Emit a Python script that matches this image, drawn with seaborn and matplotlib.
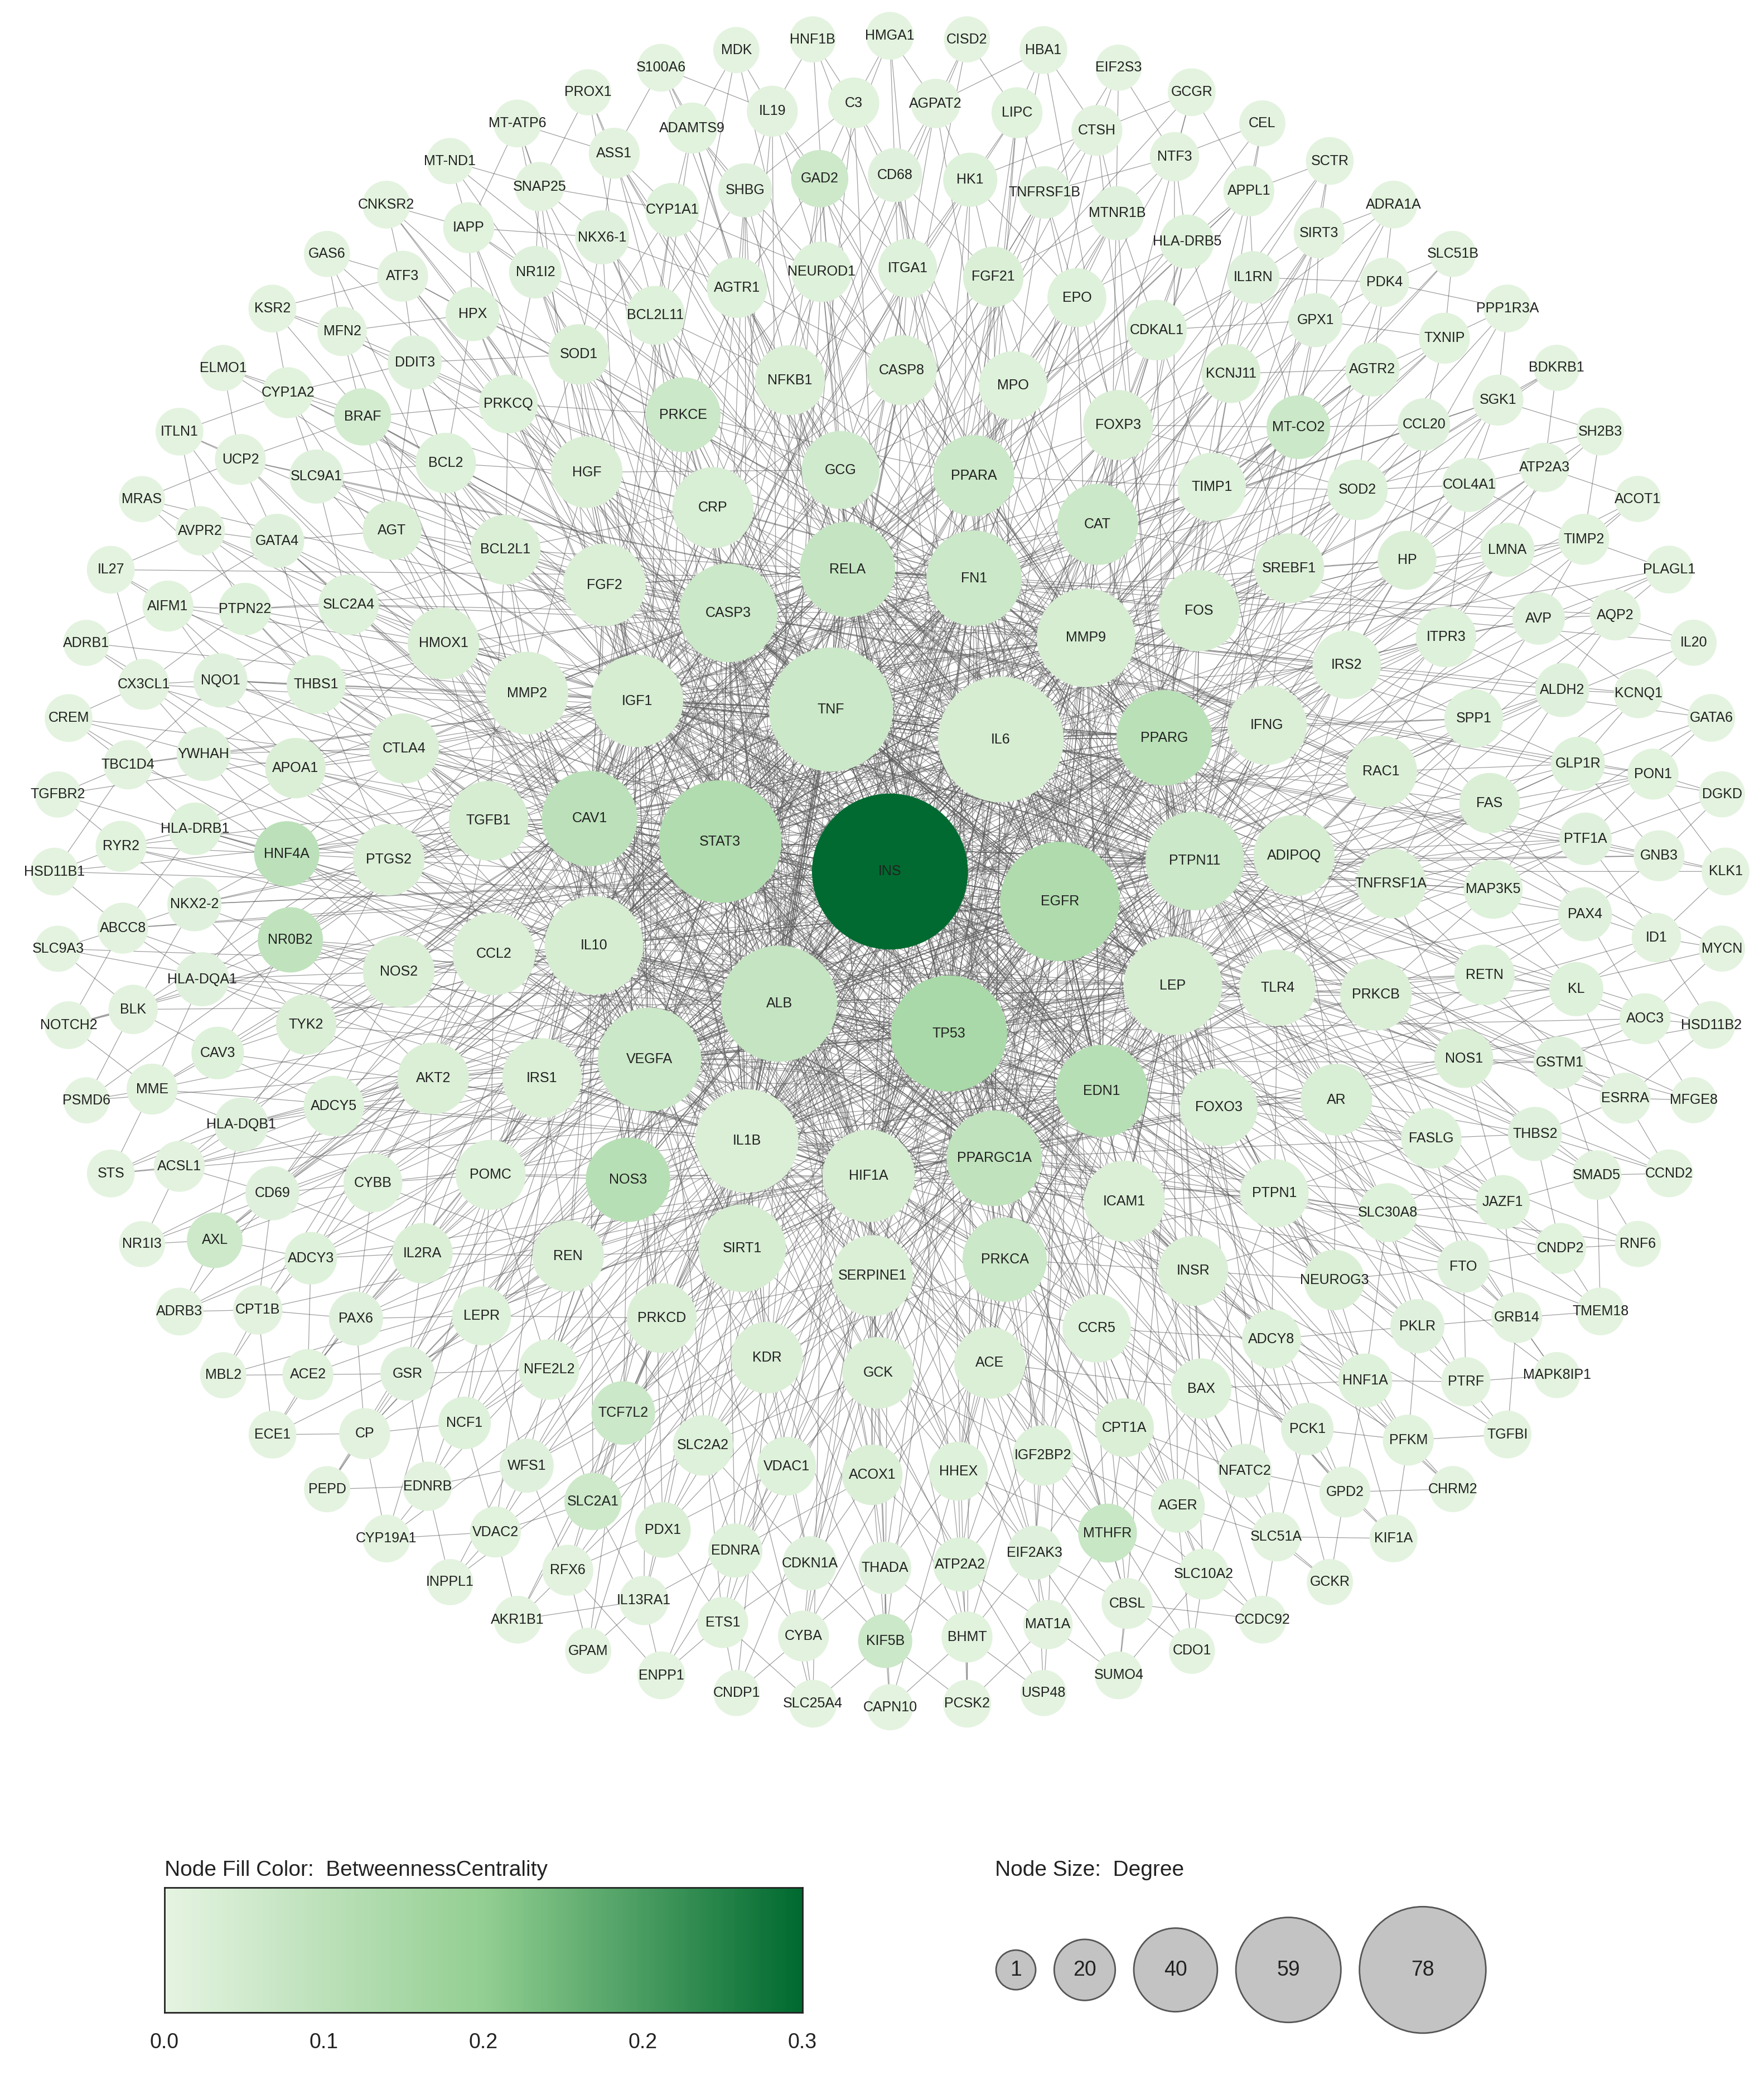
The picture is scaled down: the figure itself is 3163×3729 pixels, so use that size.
import numpy as np
import pandas as pd
import seaborn as sns
import matplotlib.pyplot as plt
from matplotlib.collections import LineCollection
from matplotlib.colors import LinearSegmentedColormap, Normalize

sns.set_style("white")
plt.rcParams['font.family'] = ['Liberation Sans', 'DejaVu Sans']

# ---- data: nodes per ring (outer -> inner), clockwise from top ----
ring_a = ['HNF1B', 'HMGA1', 'CISD2', 'HBA1', 'EIF2S3', 'GCGR', 'CEL', 'SCTR', 'ADRA1A', 'SLC51B', 'PPP1R3A',
          'BDKRB1', 'SH2B3', 'ACOT1', 'PLAGL1', 'IL20', 'GATA6', 'DGKD', 'KLK1', 'MYCN', 'HSD11B2', 'MFGE8',
          'CCND2', 'RNF6', 'TMEM18', 'MAPK8IP1', 'TGFBI', 'CHRM2', 'KIF1A', 'GCKR', 'CCDC92', 'CDO1', 'SUMO4',
          'USP48', 'PCSK2', 'CAPN10', 'SLC25A4', 'CNDP1', 'ENPP1', 'GPAM', 'AKR1B1', 'INPPL1', 'CYP19A1', 'PEPD',
          'ECE1', 'MBL2', 'ADRB3', 'NR1I3', 'STS', 'PSMD6', 'NOTCH2', 'SLC9A3', 'HSD11B1', 'TGFBR2', 'CREM',
          'ADRB1', 'IL27', 'MRAS', 'ITLN1', 'ELMO1', 'KSR2', 'GAS6', 'CNKSR2', 'MT-ND1', 'MT-ATP6', 'PROX1',
          'S100A6', 'MDK']
deg_a = [9, 10, 9, 10, 9, 10, 9, 10, 10, 9, 10, 9, 10, 9, 10, 9, 10, 9, 10, 9, 10, 9, 10, 9, 10, 9, 10, 9,
         10, 9, 10, 9, 10, 9, 10, 9, 10, 9, 10, 9, 10, 9, 10, 9, 10, 9, 10, 9, 10, 9, 10, 9, 10, 9, 10, 9, 10,
         9, 10, 9, 10, 9, 10, 9, 10, 9, 10, 9]
bet_a = [0.004, 0.006, 0.004, 0.005, 0.004, 0.006, 0.004, 0.005, 0.006, 0.004, 0.005, 0.004, 0.006, 0.004,
         0.005, 0.004, 0.006, 0.004, 0.005, 0.004, 0.006, 0.004, 0.005, 0.004, 0.006, 0.004, 0.005, 0.004,
         0.006, 0.004, 0.005, 0.004, 0.006, 0.004, 0.005, 0.004, 0.006, 0.004, 0.005, 0.004, 0.006, 0.004,
         0.005, 0.004, 0.006, 0.004, 0.005, 0.004, 0.006, 0.004, 0.005, 0.004, 0.006, 0.004, 0.005, 0.004,
         0.006, 0.004, 0.005, 0.004, 0.006, 0.004, 0.005, 0.004, 0.006, 0.004, 0.005, 0.004]

ring_b = ['IL19', 'C3', 'AGPAT2', 'LIPC', 'CTSH', 'NTF3', 'APPL1', 'SIRT3', 'PDK4', 'TXNIP', 'SGK1', 'ATP2A3',
          'TIMP2', 'AQP2', 'KCNQ1', 'PON1', 'GNB3', 'ID1', 'AOC3', 'ESRRA', 'SMAD5', 'CNDP2', 'GRB14', 'PTRF',
          'PFKM', 'GPD2', 'SLC51A', 'SLC10A2', 'CBSL', 'MAT1A', 'BHMT', 'KIF5B', 'CYBA', 'ETS1', 'IL13RA1',
          'RFX6', 'VDAC2', 'EDNRB', 'CP', 'ACE2', 'CPT1B', 'AXL', 'ACSL1', 'MME', 'BLK', 'ABCC8', 'RYR2',
          'TBC1D4', 'CX3CL1', 'AIFM1', 'AVPR2', 'UCP2', 'CYP1A2', 'MFN2', 'ATF3', 'IAPP', 'SNAP25', 'ASS1',
          'ADAMTS9']
deg_b = [12, 12, 11, 12, 12, 11, 12, 12, 11, 12, 12, 11, 12, 12, 11, 12, 12, 11, 12, 12, 11, 12, 12, 11, 12,
         12, 11, 12, 12, 11, 12, 14, 12, 12, 11, 12, 12, 11, 12, 12, 11, 15, 12, 12, 11, 12, 12, 11, 12, 12, 11,
         12, 12, 11, 12, 12, 11, 12, 12]
bet_b = [0.008, 0.01, 0.008, 0.01, 0.008, 0.008, 0.01, 0.008, 0.008, 0.01, 0.008, 0.008, 0.01, 0.008, 0.008,
         0.01, 0.008, 0.008, 0.01, 0.008, 0.008, 0.01, 0.008, 0.008, 0.01, 0.008, 0.008, 0.01, 0.008, 0.008,
         0.01, 0.05, 0.008, 0.01, 0.008, 0.008, 0.01, 0.008, 0.008, 0.01, 0.008, 0.045, 0.008, 0.01, 0.008,
         0.008, 0.01, 0.008, 0.008, 0.01, 0.008, 0.008, 0.01, 0.008, 0.008, 0.01, 0.008, 0.008, 0.01]

ring_c = ['SHBG', 'GAD2', 'CD68', 'HK1', 'TNFRSF1B', 'MTNR1B', 'HLA-DRB5', 'IL1RN', 'GPX1', 'AGTR2', 'CCL20',
          'COL4A1', 'LMNA', 'AVP', 'ALDH2', 'GLP1R', 'PTF1A', 'PAX4', 'KL', 'GSTM1', 'THBS2', 'JAZF1', 'FTO',
          'PKLR', 'HNF1A', 'PCK1', 'NFATC2', 'AGER', 'MTHFR', 'EIF2AK3', 'ATP2A2', 'THADA', 'CDKN1A', 'EDNRA',
          'PDX1', 'SLC2A1', 'WFS1', 'NCF1', 'GSR', 'PAX6', 'ADCY3', 'CD69', 'HLA-DQB1', 'CAV3', 'HLA-DQA1',
          'NKX2-2', 'HLA-DRB1', 'YWHAH', 'NQO1', 'PTPN22', 'GATA4', 'SLC9A1', 'BRAF', 'DDIT3', 'HPX', 'NR1I2',
          'NKX6-1', 'CYP1A1']
deg_c = [14, 16, 14, 14, 13, 14, 14, 13, 14, 14, 13, 14, 14, 13, 14, 14, 13, 14, 14, 13, 14, 14, 13, 14, 14,
         13, 14, 14, 17, 14, 14, 13, 14, 14, 15, 16, 14, 13, 14, 14, 13, 14, 14, 13, 14, 14, 13, 14, 14, 13, 14,
         14, 16, 14, 14, 13, 14, 14]
bet_c = [0.012, 0.045, 0.012, 0.015, 0.012, 0.012, 0.015, 0.012, 0.012, 0.015, 0.012, 0.012, 0.015, 0.012,
         0.012, 0.015, 0.012, 0.012, 0.015, 0.012, 0.012, 0.015, 0.012, 0.012, 0.015, 0.012, 0.012, 0.015,
         0.055, 0.012, 0.015, 0.012, 0.012, 0.015, 0.02, 0.045, 0.012, 0.015, 0.012, 0.012, 0.015, 0.012,
         0.012, 0.015, 0.012, 0.012, 0.015, 0.012, 0.012, 0.015, 0.012, 0.012, 0.035, 0.012, 0.015, 0.012,
         0.012, 0.015]

ring_d = ['NEUROD1', 'ITGA1', 'FGF21', 'EPO', 'CDKAL1', 'KCNJ11', 'MT-CO2', 'SOD2', 'HP', 'ITPR3', 'SPP1',
          'FAS', 'MAP3K5', 'RETN', 'NOS1', 'FASLG', 'SLC30A8', 'NEUROG3', 'ADCY8', 'BAX', 'CPT1A', 'IGF2BP2',
          'HHEX', 'ACOX1', 'VDAC1', 'SLC2A2', 'TCF7L2', 'NFE2L2', 'LEPR', 'IL2RA', 'CYBB', 'ADCY5', 'TYK2',
          'NR0B2', 'HNF4A', 'APOA1', 'THBS1', 'SLC2A4', 'AGT', 'BCL2', 'PRKCQ', 'SOD1', 'BCL2L11', 'AGTR1']
deg_d = [18, 17, 18, 17, 18, 17, 20, 18, 17, 18, 17, 18, 17, 18, 17, 18, 17, 18, 17, 18, 17, 18, 17, 18, 17,
         18, 20, 18, 17, 18, 17, 18, 18, 21, 21, 18, 17, 18, 17, 18, 17, 18, 17, 18]
bet_d = [0.015, 0.015, 0.02, 0.015, 0.015, 0.02, 0.05, 0.015, 0.02, 0.015, 0.015, 0.02, 0.015, 0.015, 0.02,
         0.015, 0.015, 0.02, 0.015, 0.015, 0.02, 0.015, 0.015, 0.02, 0.015, 0.015, 0.05, 0.015, 0.015, 0.02,
         0.015, 0.015, 0.02, 0.07, 0.075, 0.02, 0.015, 0.015, 0.02, 0.015, 0.015, 0.02, 0.015, 0.015]

ring_e = ['NFKB1', 'CASP8', 'MPO', 'FOXP3', 'TIMP1', 'SREBF1', 'IRS2', 'RAC1', 'TNFRSF1A', 'PRKCB', 'AR',
          'PTPN1', 'INSR', 'CCR5', 'ACE', 'GCK', 'KDR', 'PRKCD', 'REN', 'POMC', 'AKT2', 'NOS2', 'PTGS2', 'CTLA4',
          'HMOX1', 'BCL2L1', 'HGF', 'PRKCE']
deg_e = [24, 24, 23, 24, 23, 24, 23, 25, 24, 25, 25, 23, 24, 23, 25, 25, 25, 24, 25, 24, 25, 25, 25, 24, 25,
         24, 25, 27]
bet_e = [0.02, 0.02, 0.015, 0.02, 0.015, 0.02, 0.015, 0.02, 0.02, 0.02, 0.025, 0.015, 0.02, 0.015, 0.02, 0.02,
         0.02, 0.02, 0.02, 0.015, 0.02, 0.02, 0.02, 0.02, 0.02, 0.02, 0.02, 0.05]

ring_f = ['GCG', 'PPARA', 'CAT', 'FOS', 'IFNG', 'ADIPOQ', 'TLR4', 'FOXO3', 'ICAM1', 'PRKCA', 'SERPINE1',
          'SIRT1', 'NOS3', 'IRS1', 'CCL2', 'TGFB1', 'MMP2', 'FGF2', 'CRP']
deg_f = [29, 31, 31, 31, 30, 31, 28, 29, 31, 33, 31, 35, 33, 30, 32, 30, 32, 32, 31]
bet_f = [0.04, 0.05, 0.05, 0.03, 0.02, 0.03, 0.02, 0.025, 0.02, 0.05, 0.02, 0.03, 0.085, 0.02, 0.02, 0.03,
         0.02, 0.02, 0.025]

ring_g = ['RELA', 'FN1', 'MMP9', 'PPARG', 'PTPN11', 'LEP', 'EDN1', 'PPARGC1A', 'HIF1A', 'IL1B', 'VEGFA',
          'IL10', 'CAV1', 'IGF1', 'CASP3']
deg_g = [40, 40, 42, 40, 42, 42, 38, 40, 38, 45, 45, 42, 40, 38, 42]
bet_g = [0.06, 0.05, 0.03, 0.08, 0.05, 0.03, 0.085, 0.07, 0.03, 0.02, 0.05, 0.03, 0.075, 0.03, 0.05]

ring_h = ['TNF', 'IL6', 'EGFR', 'TP53', 'ALB', 'STAT3']
deg_h = [58, 59, 55, 53, 53, 57]
bet_h = [0.05, 0.03, 0.1, 0.11, 0.06, 0.095]

core = ['INS']
deg_core = [78]
bet_core = [0.3]

legend_degree = [1, 20, 40, 59, 78]
cbar_ticks = [0.0, 0.075, 0.15, 0.225, 0.3]
cbar_labels = ['0.0', '0.1', '0.2', '0.2', '0.3']

# ---- layout (display units of a 1330 x 1568 canvas) ----
W, H = 1330, 1568
cx, cy = 671, 657
rings = [(ring_a, deg_a, bet_a, 630, -5.3), (ring_b, deg_b, bet_b, 580, -8.8),
         (ring_c, deg_c, bet_c, 525, -12), (ring_d, deg_d, bet_d, 455, -6.5),
         (ring_e, deg_e, bet_e, 378, -11.5), (ring_f, deg_f, bet_f, 305, -7),
         (ring_g, deg_g, bet_g, 230, -8), (ring_h, deg_h, bet_h, 130, -20),
         (core, deg_core, bet_core, 0, 0)]
rows = []
for level, (names, degs, bets, r, start) in enumerate(rings):
    n = len(names)
    for i, (nm, d, b) in enumerate(zip(names, degs, bets)):
        ang = np.deg2rad(start + 360.0 * i / n)
        rows.append(dict(name=nm, degree=d, bet=b, level=level, ang=ang,
                         x=cx + r * np.sin(ang), y=cy - r * np.cos(ang)))
nodes = pd.DataFrame(rows)

# ---- edges: each node links toward inner rings (nearby angle + hubs) ----
hubs = nodes[nodes.level >= 6].index.tolist()
segs = []
for u, row in nodes.iterrows():
    if row.level == 8:
        continue
    k = max(1, row.degree // 2)
    inner = nodes[nodes.level > row.level]
    da = np.abs(np.angle(np.exp(1j * (inner.ang - row.ang))))
    score = da + 0.12 * (inner.level - row.level)
    near = inner.index[np.argsort(score.values)][: (k + 1) // 2]
    picks = list(near)
    for j in range(k - len(picks)):
        picks.append(hubs[(u * 7 + j * 5) % len(hubs)])
    for v in picks:
        segs.append([(row.x, row.y), (nodes.at[v, 'x'], nodes.at[v, 'y'])])


def diam(d):
    return 24 + 1.2 * d


px2pt = 3163 / W * 0.72
nodes['s'] = (diam(nodes.degree) * px2pt) ** 2
nodes = nodes.sort_values('degree')

cmap = LinearSegmentedColormap.from_list('bc', ['#e6f4e2', '#93cf92', '#006a30'])
norm = Normalize(0, 0.3)

fig = plt.figure(figsize=(31.63, 37.29), dpi=100)
ax = fig.add_axes([0, 0, 1, 1])
ax.add_collection(LineCollection(segs, colors='#5e5e5e', linewidths=0.9, alpha=0.6, zorder=1))
sns.scatterplot(data=nodes, x='x', y='y', hue='bet', palette=cmap, hue_norm=norm, s=nodes['s'].values,
                linewidth=0, legend=False, ax=ax, zorder=2)
for _, row in nodes.iterrows():
    ax.text(row.x, row.y, row['name'], ha='center', va='center', fontsize=18, color='#222222', zorder=3)

# size legend
ldiam = [29 + 0.85 * d for d in legend_degree]
lx = []
pos = 751
for dm in ldiam:
    lx.append(pos + dm / 2)
    pos += dm + 14
ax.scatter(lx, [1485] * len(lx), s=[(dm * px2pt) ** 2 for dm in ldiam], color='#c3c3c3',
           edgecolor='#555555', linewidth=2, zorder=2)
for x, d in zip(lx, legend_degree):
    ax.text(x, 1485, str(d), ha='center', va='center', fontsize=27, color='#222222')
ax.text(750, 1410, 'Node Size:  Degree', ha='left', va='center', fontsize=28, color='#222222')
ax.text(124, 1410, 'Node Fill Color:  BetweennessCentrality', ha='left', va='center', fontsize=28,
        color='#222222')

ax.set_xlim(0, W)
ax.set_ylim(H, 0)
ax.axis('off')

# colorbar
cax = fig.add_axes([124 / W, 1 - 1517 / H, (605 - 124) / W, (1517 - 1423) / H])
grad = np.linspace(0, 0.3, 256).reshape(1, -1)
cax.imshow(grad, aspect='auto', cmap=cmap, norm=norm, extent=[0, 0.3, 0, 1])
cax.set_yticks([])
cax.set_xticks(cbar_ticks)
cax.set_xticklabels(cbar_labels, fontsize=27, color='#222222')
cax.tick_params(axis='x', length=8, width=2, pad=18)
for sp in cax.spines.values():
    sp.set_linewidth(2)
    sp.set_color('#222222')

fig.savefig('out.png', dpi=100, facecolor='white')
